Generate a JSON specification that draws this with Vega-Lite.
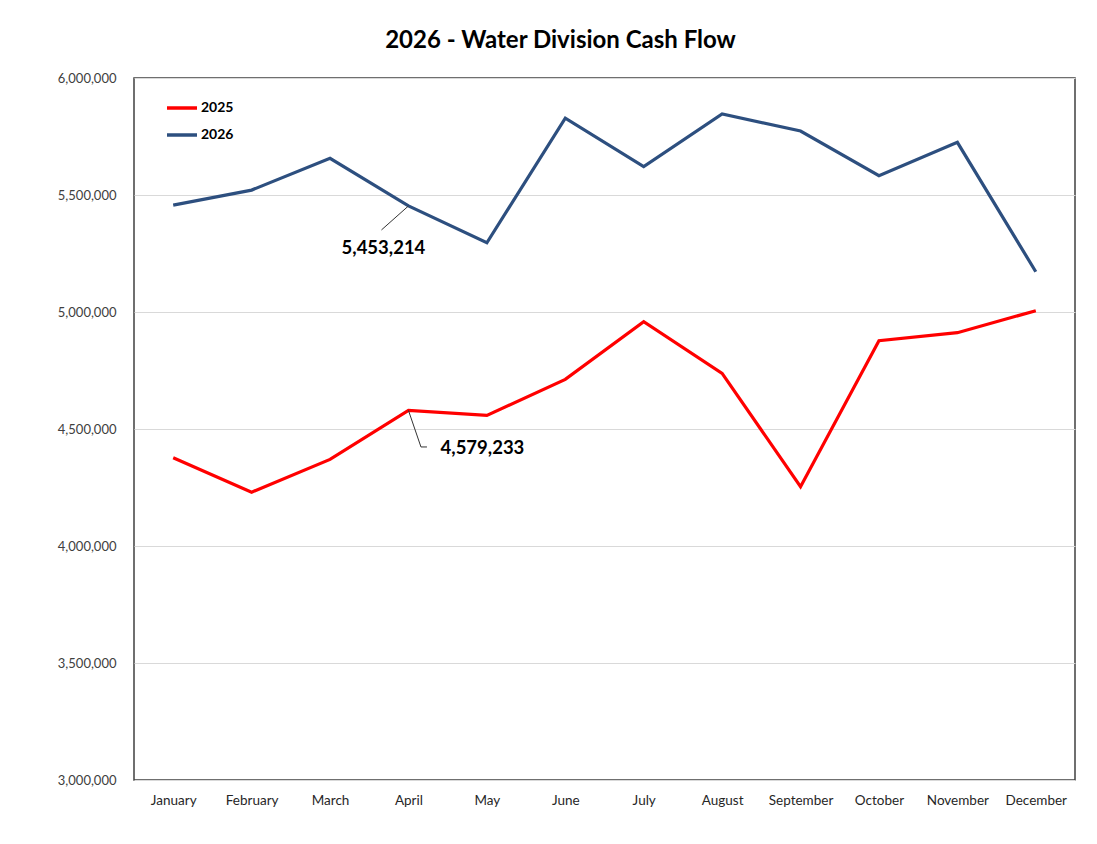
{
  "$schema": "https://vega.github.io/schema/vega-lite/v6.json",
  "autosize": {"type": "none"},
  "width": 941,
  "height": 702,
  "padding": {"left": 134, "top": 78, "right": 22, "bottom": 64},
  "background": "#ffffff",
  "title": {
    "text": "2026 - Water Division Cash Flow",
    "font": "Lato",
    "fontSize": 24,
    "fontWeight": "bold",
    "color": "#000000",
    "anchor": "middle",
    "frame": "group",
    "dx": -44,
    "offset": 19
  },
  "config": {
    "view": {"stroke": "#404040", "strokeWidth": 1.5},
    "font": "Lato"
  },
  "data": {
    "values": [
      {"month": "January", "year": "2025", "value": 4377000},
      {"month": "February", "year": "2025", "value": 4230000},
      {"month": "March", "year": "2025", "value": 4370000},
      {"month": "April", "year": "2025", "value": 4579233},
      {"month": "May", "year": "2025", "value": 4558000},
      {"month": "June", "year": "2025", "value": 4712000},
      {"month": "July", "year": "2025", "value": 4959000},
      {"month": "August", "year": "2025", "value": 4738000},
      {"month": "September", "year": "2025", "value": 4253500},
      {"month": "October", "year": "2025", "value": 4877000},
      {"month": "November", "year": "2025", "value": 4911500},
      {"month": "December", "year": "2025", "value": 5005500},
      {"month": "January", "year": "2026", "value": 5457000},
      {"month": "February", "year": "2026", "value": 5521000},
      {"month": "March", "year": "2026", "value": 5657000},
      {"month": "April", "year": "2026", "value": 5453214},
      {"month": "May", "year": "2026", "value": 5296000},
      {"month": "June", "year": "2026", "value": 5828000},
      {"month": "July", "year": "2026", "value": 5621000},
      {"month": "August", "year": "2026", "value": 5846000},
      {"month": "September", "year": "2026", "value": 5773500},
      {"month": "October", "year": "2026", "value": 5582500},
      {"month": "November", "year": "2026", "value": 5725000},
      {"month": "December", "year": "2026", "value": 5172000}
    ]
  },
  "encoding": {
    "x": {
      "field": "month",
      "type": "ordinal",
      "sort": ["January","February","March","April","May","June","July","August","September","October","November","December"],
      "scale": {"type": "point", "padding": 0.5},
      "axis": {
        "title": null,
        "labelAngle": 0,
        "ticks": false,
        "domain": false,
        "grid": false,
        "labelFont": "Lato",
        "labelFontSize": 13.5,
        "labelColor": "#262626",
        "labelPadding": 13
      }
    },
    "y": {
      "field": "value",
      "type": "quantitative",
      "scale": {"domain": [3000000, 6000000], "nice": false, "zero": false},
      "axis": {
        "title": null,
        "values": [3000000, 3500000, 4000000, 4500000, 5000000, 5500000, 6000000],
        "format": ",d",
        "ticks": false,
        "domain": false,
        "grid": true,
        "gridColor": "#d9d9d9",
        "gridWidth": 1,
        "labelFont": "Lato",
        "labelFontSize": 13,
        "labelColor": "#404040",
        "labelPadding": 18
      }
    }
  },
  "layer": [
    {
      "mark": {"type": "line", "strokeWidth": 3.2, "strokeJoin": "miter"},
      "encoding": {
        "color": {
          "field": "year",
          "type": "nominal",
          "scale": {"domain": ["2025", "2026"], "range": ["#ff0000", "#2d4f7f"]},
          "legend": {
            "title": null,
            "orient": "none",
            "legendX": 31,
            "legendY": 13,
            "symbolType": "stroke",
            "symbolSize": 900,
            "symbolStrokeWidth": 3.5,
            "rowPadding": 3,
            "labelFont": "Lato",
            "labelFontSize": 14,
            "labelFontWeight": "bold",
            "labelColor": "#000000",
            "labelOffset": 2,
            "padding": 0
          }
        }
      }
    },
    {
      "transform": [{"filter": "datum.month == 'April' && datum.year == '2026'"}],
      "mark": {"type": "rule", "color": "#333333", "strokeWidth": 1, "x2Offset": -27, "y2Offset": 24},
      "encoding": {
        "x2": {"field": "month"},
        "y2": {"field": "value"}
      }
    },
    {
      "transform": [{"filter": "datum.month == 'April' && datum.year == '2025'"}],
      "mark": {"type": "rule", "color": "#333333", "strokeWidth": 1, "x2Offset": 12.5, "y2Offset": 36.5},
      "encoding": {
        "x2": {"field": "month"},
        "y2": {"field": "value"}
      }
    },
    {
      "transform": [{"filter": "datum.month == 'April' && datum.year == '2025'"}],
      "mark": {"type": "rule", "color": "#333333", "strokeWidth": 1, "xOffset": 12.5, "yOffset": 36.5, "x2Offset": 18.5, "y2Offset": 36.5},
      "encoding": {
        "x2": {"field": "month"},
        "y2": {"field": "value"}
      }
    },
    {
      "transform": [{"filter": "datum.month == 'April' && datum.year == '2026'"}],
      "mark": {"type": "text", "font": "Lato", "fontSize": 18.5, "fontWeight": "bold", "color": "#000000", "align": "center", "baseline": "middle", "dx": -25, "dy": 42},
      "encoding": {"text": {"field": "value", "type": "quantitative", "format": ",d"}}
    },
    {
      "transform": [{"filter": "datum.month == 'April' && datum.year == '2025'"}],
      "mark": {"type": "text", "font": "Lato", "fontSize": 18.5, "fontWeight": "bold", "color": "#000000", "align": "center", "baseline": "middle", "dx": 74, "dy": 38},
      "encoding": {"text": {"field": "value", "type": "quantitative", "format": ",d"}}
    }
  ]
}
